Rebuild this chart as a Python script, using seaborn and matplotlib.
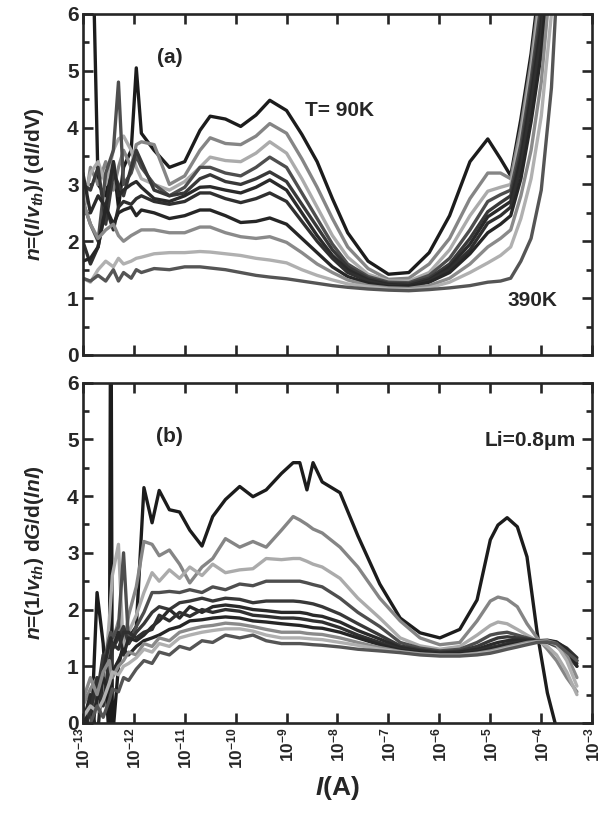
import numpy as np
import pandas as pd
import matplotlib
matplotlib.use("Agg")
import matplotlib.pyplot as plt
import seaborn as sns
from matplotlib.ticker import FixedLocator, MultipleLocator

# temperatures 90K ... 390K
temps = [90, 120, 150, 180, 210, 240, 270, 300, 330, 360, 390]
line_colors = ['#1c1c1c', '#858585', '#ababab', '#4e4e4e', '#383838', '#2a2a2a',
               '#303030', '#262626', '#8a8a8a', '#b0b0b0', '#555555']

# log10(I) grid, panel (a)
logI_a = [-13.0, -12.85, -12.7, -12.55, -12.4, -12.3, -12.2, -12.05, -11.95, -11.85,
          -11.6, -11.3, -11.0, -10.7, -10.5, -10.2, -9.9, -9.6, -9.33, -9.0,
          -8.7, -8.4, -8.1, -7.8, -7.4, -7.0, -6.6, -6.2, -5.8, -5.4,
          -5.05, -4.8, -4.6, -4.4, -4.2, -4.0, -3.8, -3.6]

n_a = {
    90:  [9.0, 9.0, 3.0, 2.8, 3.4, 2.6, 3.3, 3.6, 5.05, 3.9, 3.6, 3.3, 3.4,
          3.95, 4.2, 4.15, 4.02, 4.22, 4.48, 4.3, 3.88, 3.4, 2.75, 2.15, 1.65,
          1.42, 1.45, 1.8, 2.45, 3.4, 3.8, 3.45, 3.15, 4.15, 5.3, 6.8, 9.0, 12.0],
    120: [2.4, 3.3, 3.0, 3.4, 2.9, 3.3, 3.6, 3.3, 3.7, 3.75, 3.7, 3.0, 3.15,
          3.6, 3.82, 3.72, 3.7, 3.85, 4.07, 3.9, 3.45, 2.95, 2.4, 1.9, 1.52,
          1.33, 1.35, 1.6, 2.05, 2.75, 3.2, 3.2, 3.1, 4.0, 5.15, 6.6, 8.8, 12.0],
    150: [2.6, 3.2, 3.4, 3.0, 3.6, 3.8, 3.85, 3.6, 3.3, 3.1, 3.0, 2.9, 3.05,
          3.3, 3.48, 3.42, 3.4, 3.55, 3.75, 3.55, 3.1, 2.6, 2.1, 1.72, 1.42,
          1.3, 1.3, 1.45, 1.85, 2.45, 2.88, 2.95, 3.0, 3.85, 5.0, 6.4, 8.6, 12.0],
    180: [2.7, 2.3, 2.0, 3.2, 3.6, 4.8, 3.0, 3.2, 3.5, 3.3, 3.0, 2.8, 2.95,
          3.3, 3.3, 3.2, 3.15, 3.3, 3.48, 3.3, 2.85, 2.4, 1.95, 1.6, 1.38,
          1.28, 1.27, 1.4, 1.7, 2.2, 2.7, 2.82, 2.9, 3.7, 4.85, 6.2, 8.4, 11.0],
    210: [3.0, 2.9, 3.3, 2.3, 3.2, 3.0, 2.8, 3.3, 3.6, 3.4, 2.9, 2.8, 2.85,
          3.1, 3.17, 3.05, 3.0, 3.1, 3.22, 3.05, 2.65, 2.25, 1.85, 1.55, 1.35,
          1.26, 1.25, 1.35, 1.6, 2.05, 2.52, 2.68, 2.8, 3.55, 4.7, 6.0, 8.2, 11.0],
    240: [3.2, 2.5, 2.8, 2.6, 3.4, 2.8, 2.9, 3.0, 3.05, 2.95, 2.75, 2.7, 2.8,
          2.95, 2.96, 2.9, 2.85, 2.95, 3.08, 2.9, 2.5, 2.1, 1.75, 1.5, 1.32,
          1.24, 1.22, 1.32, 1.55, 1.95, 2.43, 2.58, 2.7, 3.45, 4.55, 5.8, 8.0, 11.0],
    270: [2.0, 1.6, 1.9, 2.6, 2.2, 2.6, 2.7, 2.65, 2.75, 2.8, 2.7, 2.65, 2.7,
          2.85, 2.85, 2.75, 2.68, 2.75, 2.85, 2.7, 2.35, 2.0, 1.7, 1.45, 1.3,
          1.22, 1.2, 1.3, 1.5, 1.85, 2.32, 2.45, 2.6, 3.3, 4.4, 5.6, 7.7, 10.0],
    300: [1.65, 1.7, 1.9, 2.6, 2.3, 2.5, 2.55, 2.6, 2.45, 2.55, 2.5, 2.4, 2.45,
          2.55, 2.55, 2.45, 2.33, 2.35, 2.41, 2.3, 2.05, 1.8, 1.55, 1.38, 1.26,
          1.2, 1.2, 1.28, 1.45, 1.78, 2.15, 2.3, 2.45, 3.1, 4.1, 5.3, 7.3, 10.0],
    330: [2.7, 2.3, 2.05, 2.2, 2.3, 2.1, 2.0, 2.1, 2.15, 2.2, 2.2, 2.15, 2.15,
          2.25, 2.25, 2.15, 2.08, 2.05, 2.08, 1.98, 1.8, 1.6, 1.45, 1.32, 1.22,
          1.18, 1.17, 1.22, 1.35, 1.6, 1.9, 2.05, 2.2, 2.8, 3.6, 4.8, 6.8, 9.5],
    360: [1.35, 1.28, 1.5, 1.65, 1.55, 1.7, 1.6, 1.65, 1.7, 1.72, 1.78, 1.8, 1.8,
          1.82, 1.81, 1.78, 1.75, 1.7, 1.67, 1.62, 1.5, 1.4, 1.32, 1.25, 1.2,
          1.16, 1.15, 1.18, 1.28, 1.45, 1.62, 1.75, 1.9, 2.4, 3.1, 4.2, 6.0, 9.0],
    390: [1.35, 1.3, 1.4, 1.3, 1.5, 1.3, 1.45, 1.35, 1.5, 1.45, 1.52, 1.5, 1.55,
          1.55, 1.53, 1.5, 1.45, 1.4, 1.37, 1.34, 1.3, 1.26, 1.22, 1.19, 1.16,
          1.14, 1.13, 1.15, 1.18, 1.22, 1.28, 1.3, 1.35, 1.65, 2.05, 2.9, 4.7, 8.0],
}

# log10(I) grid, panel (b)
logI_b = [-13.0, -12.85, -12.72, -12.6, -12.48, -12.45, -12.42, -12.3, -12.2, -12.1,
          -11.95, -11.8, -11.64, -11.5, -11.3, -11.1, -10.9, -10.66, -10.45, -10.2,
          -9.92, -9.66, -9.4, -9.1, -8.87, -8.74, -8.6, -8.48, -8.3, -7.95,
          -7.6, -7.17, -6.77, -6.38, -5.99, -5.6, -5.26, -5.0, -4.85, -4.67,
          -4.47, -4.28, -4.08, -3.88, -3.7, -3.5, -3.3]

n_b = {
    90:  [-0.5, -0.5, 2.3, 1.4, -0.3, 9.0, -0.3, 1.0, 1.4, 1.5,
          1.7, 4.15, 3.53, 4.1, 3.76, 3.72, 3.4, 3.12, 3.64, 3.94,
          4.17, 3.99, 4.11, 4.4, 4.59, 4.59, 4.11, 4.59, 4.25, 4.06,
          3.3, 2.45, 1.85, 1.59, 1.5, 1.65, 2.17, 3.23, 3.49, 3.62,
          3.46, 2.93, 1.59, 0.53, -0.1, np.nan, np.nan],
    120: [0.3, 0.6, 0.8, 0.5, 1.2, 1.3, 1.4, 1.8, 1.3, 1.9,
          2.4, 3.2, 3.15, 2.95, 3.05, 2.8, 2.47, 2.75, 2.9, 3.25,
          3.1, 3.2, 3.1, 3.4, 3.64, 3.58, 3.5, 3.42, 3.35, 3.1,
          2.75, 2.2, 1.8, 1.5, 1.38, 1.42, 1.8, 2.15, 2.22, 2.18,
          2.05, 1.75, 1.5, 1.3, 1.1, 0.8, 0.55],
    150: [0.0, 0.4, 0.2, 0.6, 1.8, 2.2, 2.6, 3.15, 1.2, 1.6,
          1.9, 2.3, 2.65, 2.5, 2.7, 2.55, 2.75, 2.6, 2.8, 2.65,
          2.7, 2.72, 2.9, 2.88, 2.9, 2.9, 2.85, 2.8, 2.75, 2.55,
          2.2, 1.85, 1.5, 1.36, 1.3, 1.35, 1.55, 1.72, 1.78, 1.75,
          1.65, 1.55, 1.45, 1.35, 1.2, 0.9, 0.5],
    180: [-0.3, 0.3, 0.6, 1.0, 1.5, 1.6, 1.5, 1.7, 3.0, 1.4,
          1.7, 1.95, 2.3, 2.3, 2.32, 2.3, 2.35, 2.3, 2.4, 2.35,
          2.45, 2.42, 2.5, 2.5, 2.5, 2.5, 2.47, 2.44, 2.4, 2.2,
          1.95, 1.7, 1.42, 1.32, 1.27, 1.3, 1.42, 1.55, 1.58, 1.6,
          1.55, 1.5, 1.45, 1.42, 1.35, 1.2, 1.0],
    210: [0.2, -0.3, 0.5, 1.2, 0.8, 1.0, 1.3, 1.5, 1.7, 1.4,
          1.6, 1.75, 1.95, 2.05, 2.0, 2.12, 2.15, 2.2, 2.15, 2.2,
          2.18, 2.12, 2.15, 2.15, 2.15, 2.14, 2.12, 2.1, 2.05, 1.92,
          1.75, 1.55, 1.36, 1.29, 1.25, 1.27, 1.35, 1.45, 1.5, 1.52,
          1.5, 1.48, 1.45, 1.43, 1.38, 1.25, 1.05],
    240: [0.0, 0.5, -0.3, 0.9, 1.4, 1.5, 1.3, 1.6, 1.2, 1.5,
          1.45, 1.55, 1.7, 1.8, 2.0, 1.85, 2.05, 1.95, 2.05, 2.08,
          2.05, 2.0, 1.98, 1.95, 1.95, 1.95, 1.93, 1.9, 1.88, 1.78,
          1.63, 1.48, 1.33, 1.27, 1.23, 1.25, 1.3, 1.38, 1.42, 1.45,
          1.46, 1.46, 1.45, 1.44, 1.4, 1.3, 1.1],
    270: [-0.2, 0.2, 0.8, 0.3, 1.1, 1.2, 1.4, 1.3, 1.6, 1.6,
          1.5, 1.6, 1.65, 1.9, 1.8, 1.95, 1.88, 2.0, 1.95, 2.0,
          1.97, 1.9, 1.88, 1.85, 1.85, 1.84, 1.82, 1.8, 1.78, 1.68,
          1.55, 1.42, 1.3, 1.25, 1.22, 1.23, 1.27, 1.33, 1.36, 1.4,
          1.42, 1.44, 1.45, 1.45, 1.42, 1.32, 1.15],
    300: [0.3, -0.2, 0.4, 0.8, 0.5, 0.7, 0.9, 1.1, 1.3, 1.2,
          1.35, 1.45, 1.5, 1.55, 1.65, 1.7, 1.8, 1.82, 1.85, 1.87,
          1.85, 1.8, 1.78, 1.75, 1.73, 1.72, 1.7, 1.68, 1.67, 1.6,
          1.5, 1.38, 1.28, 1.24, 1.21, 1.22, 1.25, 1.3, 1.33, 1.37,
          1.4, 1.43, 1.45, 1.46, 1.43, 1.3, 1.0],
    330: [0.4, 0.8, 0.5, 0.9, 1.1, 0.9, 0.8, 1.0, 1.1, 1.25,
          1.2, 1.4, 1.35, 1.5, 1.45, 1.6, 1.65, 1.7, 1.72, 1.76,
          1.74, 1.7, 1.65, 1.6, 1.6, 1.6, 1.58, 1.57, 1.56, 1.5,
          1.42, 1.33, 1.26, 1.22, 1.2, 1.2, 1.23, 1.27, 1.3, 1.34,
          1.38, 1.42, 1.44, 1.45, 1.4, 1.2, 0.8],
    360: [0.1, 0.3, 0.2, 0.4, 0.7, 0.8, 0.9, 0.85, 1.0, 1.05,
          1.15, 1.3, 1.25, 1.4, 1.35, 1.5, 1.55, 1.6, 1.63, 1.66,
          1.66, 1.62, 1.55, 1.5, 1.5, 1.5, 1.49, 1.48, 1.47, 1.42,
          1.37, 1.3, 1.25, 1.21, 1.19, 1.19, 1.22, 1.25, 1.28, 1.32,
          1.36, 1.4, 1.43, 1.44, 1.38, 1.1, 0.65],
    390: [-0.3, 0.0, 0.3, 0.1, 0.4, 0.5, 0.6, 0.55, 0.8, 0.75,
          0.95, 1.1, 1.05, 1.25, 1.2, 1.35, 1.3, 1.45, 1.42, 1.55,
          1.5, 1.55, 1.45, 1.4, 1.4, 1.4, 1.39, 1.38, 1.37, 1.34,
          1.3, 1.27, 1.24, 1.2, 1.18, 1.18, 1.2, 1.23, 1.26, 1.3,
          1.34, 1.38, 1.42, 1.43, 1.4, 1.25, 1.1],
}

decades = [-13, -12, -11, -10, -9, -8, -7, -6, -5, -4, -3]


def to_long(logI, curves):
    rows = []
    for T in temps:
        for lx, v in zip(logI, curves[T]):
            rows.append({'I': 10.0 ** lx, 'n': v, 'T': f'{T}K'})
    return pd.DataFrame(rows)


sns.set_style("ticks")
plt.rcParams['font.family'] = ['Liberation Sans', 'DejaVu Sans']
plt.rcParams['font.weight'] = 'bold'
plt.rcParams['mathtext.fontset'] = 'custom'
plt.rcParams['mathtext.rm'] = 'Liberation Sans:bold'
plt.rcParams['mathtext.bf'] = 'Liberation Sans:bold'
plt.rcParams['mathtext.it'] = 'Liberation Sans:bold:italic'
plt.rcParams['axes.linewidth'] = 1.9

fig = plt.figure(figsize=(6, 8.16), dpi=100, facecolor='white')
ax_a = fig.add_axes([0.138, 0.565, 0.849, 0.418])
ax_b = fig.add_axes([0.138, 0.114, 0.849, 0.417])

hue_order = [f'{T}K' for T in temps]
for ax, logI, curves in [(ax_a, logI_a, n_a), (ax_b, logI_b, n_b)]:
    sns.lineplot(data=to_long(logI, curves), x='I', y='n', hue='T', hue_order=hue_order,
                 palette=line_colors, estimator=None, legend=False, lw=2.4, ax=ax)
    ax.set_xscale('log')
    ax.set_xlim(1e-13, 1e-3)
    ax.set_ylim(0, 6)
    ax.xaxis.set_major_locator(FixedLocator([10.0 ** d for d in decades]))
    ax.xaxis.set_minor_locator(FixedLocator([]))
    ax.yaxis.set_major_locator(MultipleLocator(1))
    ax.yaxis.set_minor_locator(MultipleLocator(0.5))
    ax.tick_params(which='both', direction='in', top=True, right=True, width=1.9)
    ax.tick_params(which='major', length=7, pad=3)
    ax.tick_params(axis='y', labelsize=15)
    ax.tick_params(which='minor', length=4.5)
    for lab in ax.get_yticklabels():
        lab.set_fontweight('bold')
    ax.set_xlabel('')

ax_a.set_xticklabels([])
ax_b.set_xticklabels([f'$10^{{{d}}}$' for d in decades], rotation=90, fontsize=12.5)

ax_a.set_ylabel(r'$n$=($I$/$v_{th}$)/ (d$I$/dV)', fontsize=15, fontweight='bold', labelpad=15)
ax_b.set_ylabel(r'$n$=(1/$v_{th}$) d$G$/d($lnI$)', fontsize=15, fontweight='bold', labelpad=15)
ax_b.set_xlabel(r'$I$(A)', fontsize=19, fontweight='bold', labelpad=4)

ax_a.text(0.171, 0.871, '(a)', transform=ax_a.transAxes, fontsize=15,
          fontweight='bold', ha='center', va='center')
ax_a.text(0.436, 0.716, 'T= 90K', transform=ax_a.transAxes, fontsize=15,
          fontweight='bold', ha='left', va='center')
ax_a.text(0.833, 0.161, '390K', transform=ax_a.transAxes, fontsize=15,
          fontweight='bold', ha='left', va='center')
ax_b.text(0.171, 0.841, '(b)', transform=ax_b.transAxes, fontsize=15,
          fontweight='bold', ha='center', va='center')
ax_b.text(0.967, 0.829, 'Li=0.8\u03bcm', transform=ax_b.transAxes, fontsize=15,
          fontweight='bold', ha='right', va='center')

fig.savefig('out.png', dpi=100, facecolor='white')
